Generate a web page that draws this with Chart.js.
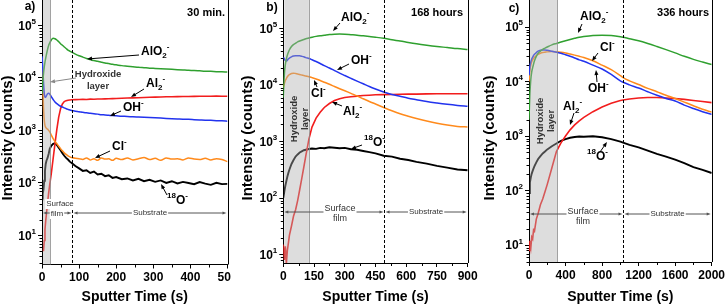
<!DOCTYPE html>
<html>
<head>
<meta charset="utf-8">
<script src="https://cdn.jsdelivr.net/npm/chart.js@4.4.0/dist/chart.umd.min.js"></script>
<style>
  body { margin: 0; background: #fff; }
  #wrap { position: relative; width: 725px; height: 307px; overflow: hidden; }
  canvas { position: absolute; top: 0; }
</style>
</head>
<body>
<div id="wrap">
  <canvas id="chartA" width="231" height="307" style="left:0"></canvas>
  <canvas id="chartB" width="249" height="307" style="left:231px"></canvas>
  <canvas id="chartC" width="245" height="307" style="left:480px"></canvas>
</div>
<script>
const FONT = '"Liberation Sans", Arial, Helvetica, sans-serif';
const H = 307;

const seriesNames = ['AlO_2^-', 'OH^-', 'Cl^-', 'Al_2^-', '^{18}O^-'];
const seriesColors = ['#2fa02f', '#2233ee', '#ff8a1c', '#f21d1d', '#000000'];
const seriesWidths = [1.5, 1.5, 1.5, 1.6, 1.9];
const yMajor = [10, 100, 1000, 10000, 100000];

// ---- a) 30 min ----
const timeA = [0,2,4,6,8,10,12,15,18,21,25,30,35,40,45,50,55,60,65,70,75,80,90,100,110,120,130,140,150,160,170,180,190,200,215,230,245,260,275,290,305,320,335,350,365,380,395,410,425,440,455,470,485,500];
const alo2A = [5000,8000,12000,16000,20000,24000,28000,35000,42000,47000,53000,57000,56000,53000,49000,45000,42000,39000,36500,34000,32500,31000,28500,26500,25000,23500,22500,21500,20800,20000,19300,18800,18200,17800,17200,16800,16400,16000,15700,15400,15200,15000,14800,14600,14400,14200,14000,13900,13700,13500,13400,13200,13100,13000];
const ohA = [26000,16000,8500,5200,4300,4300,4600,5000,5100,4900,4400,3900,3500,3250,3050,2900,2800,2700,2600,2520,2450,2400,2330,2280,2220,2170,2120,2080,2050,2000,1980,1950,1920,1900,1870,1850,1820,1800,1780,1760,1740,1720,1700,1680,1660,1640,1630,1610,1590,1570,1560,1540,1530,1500];
const clA = [24000,9000,2800,1600,1250,1150,1100,1060,1000,940,820,700,620,560,500,450,410,375,350,330,315,305,295,290,280,300,275,290,270,300,285,290,270,295,280,300,275,290,305,280,295,270,300,285,290,275,300,285,280,295,275,290,280,255];
const al2A = [null,null,5,8,13,19,26,42,65,95,150,290,560,1050,1800,2600,3200,3550,3700,3780,3820,3850,3880,3900,3920,3900,3950,3930,3970,3990,4000,4020,4050,4070,4100,4150,4180,4200,4250,4300,4320,4350,4380,4400,4420,4450,4430,4470,4480,4500,4480,4520,4500,4500];
const o18A = [70,62,75,110,170,230,265,300,360,450,510,555,570,530,470,420,370,330,300,280,255,240,210,190,170,175,155,165,145,150,135,140,125,130,118,122,112,120,108,115,105,112,100,108,98,105,100,95,104,97,92,101,95,96];
const xMajorA = [0, 100, 200, 300, 400, 500];
const xLabelsA = ['0', '100', '200', '300', '400', '500'];
const xMinorA = [50, 150, 250, 350, 450];

// ---- b) 168 hours ----
const timeB = [0,5,10,15,20,25,30,40,50,60,70,80,90,100,110,125,140,160,180,200,225,250,275,300,330,360,390,420,450,490,530,570,610,650,700,750,800,850,900];
const alo2B = [6000,15000,23000,29000,34000,38000,42000,48000,52000,55000,58000,60000,62000,64000,66000,68000,70000,72500,74500,76000,78000,79000,79500,79000,77500,76000,74000,72000,70000,67000,63000,60000,56500,53500,50500,48000,46000,44000,42500];
const ohB = [31000,29000,27000,26500,27500,29000,30000,31500,32500,33000,33000,32800,32200,31500,30500,29500,28000,26000,24000,22000,20000,18000,16200,14700,13100,11700,10500,9400,8500,7500,6800,6300,5850,5500,5100,4800,4550,4350,4200];
const clB = [9000,10500,12000,13000,14000,14800,15300,16000,16200,16000,15700,15300,15000,14700,14400,14000,13500,12800,12000,11200,10300,9400,8600,7900,7100,6400,5700,5100,4600,4000,3500,3100,2800,2550,2300,2100,1950,1850,1800];
const al2B = [15,8,14,7,12,16,22,32,48,62,90,140,220,350,560,1100,1800,2600,3300,4000,4700,5300,5700,6000,6200,6350,6500,6600,6700,6750,6800,6850,6900,6900,6950,7000,7000,7000,7000];
const o18B = [100,130,165,200,240,280,320,400,470,540,590,640,670,700,715,735,750,740,770,760,790,775,760,770,730,715,680,650,615,560,540,495,470,435,405,370,345,320,310];
const xMajorB = [0, 150, 300, 450, 600, 750, 900];
const xLabelsB = ['0', '150', '300', '450', '600', '750', '900'];
const xMinorB = [75, 225, 375, 525, 675, 825];

// ---- c) 336 hours ----
const timeC = [0,10,20,30,40,50,60,80,100,125,150,175,200,250,300,350,400,450,500,550,600,700,800,900,1000,1030,1100,1200,1300,1400,1500,1600,1700,1800,1900,2000];
const alo2C = [2000,6000,11000,15000,18000,21000,24000,29000,33000,36000,39000,41000,43000,47000,50000,53000,56000,59000,62000,65000,67000,70000,71000,70000,66500,65000,61000,56000,50000,44000,38500,33500,29000,25500,22800,20500];
const ohC = [13000,19000,23000,26000,28000,30000,31500,34000,36000,37500,38000,38000,37500,36000,34500,33000,31000,29000,27000,25000,23500,20000,17000,13500,10300,9700,8700,7600,6500,5600,4900,4400,3700,3200,2800,2500];
const clC = [10000,16000,20000,23000,25000,26500,28000,30000,31500,33000,34000,34500,35000,35500,35000,34500,33500,32000,30500,29000,27500,24000,20000,16500,12800,11800,10300,8800,7500,6500,5600,4900,4200,3600,3100,2750];
const al2C = [8,12,9,14,13,19,18,30,38,55,70,95,130,260,520,750,1000,1300,1600,1900,2200,2800,3400,4000,4500,4600,4800,5000,5100,5100,5000,4900,4700,4500,4300,4100];
const o18C = [90,140,175,205,230,255,280,330,380,430,480,520,570,650,730,820,880,930,960,980,970,990,950,880,790,760,690,620,540,470,420,370,320,270,240,210];
const xMajorC = [0, 400, 800, 1200, 1600, 2000];
const xLabelsC = ['0', '400', '800', '1200', '1600', '2000'];
const xMinorC = [200, 600, 1000, 1400, 1800];

// split "AlO_2^-" into normal / sub / sup runs
function chemParts(str) {
  const parts = [];
  let i = 0;
  while (i < str.length) {
    const c = str[i];
    if (c === '^' || c === '_') {
      let t;
      if (str[i + 1] === '{') { const j = str.indexOf('}', i); t = str.slice(i + 2, j); i = j + 1; }
      else { t = str[i + 1]; i += 2; }
      parts.push({ t, k: c === '^' ? 'sup' : 'sub' });
    } else {
      let j = i;
      while (j < str.length && str[j] !== '^' && str[j] !== '_') j++;
      parts.push({ t: str.slice(i, j), k: 'n' });
      i = j;
    }
  }
  return parts;
}

function drawChem(ctx, str, x, y, size, align, weight, color) {
  const parts = chemParts(str);
  const small = Math.round(size * 0.7);
  const fontOf = k => `${weight} ${k === 'n' ? size : small}px ${FONT}`;
  let w = 0;
  parts.forEach(p => { ctx.font = fontOf(p.k); p.w = ctx.measureText(p.t).width; w += p.w; });
  let cx = align === 'right' ? x - w : align === 'center' ? x - w / 2 : x;
  ctx.fillStyle = color || '#000';
  ctx.textAlign = 'left';
  ctx.textBaseline = 'middle';
  parts.forEach(p => {
    ctx.font = fontOf(p.k);
    const dy = p.k === 'sup' ? -size * 0.4 : p.k === 'sub' ? size * 0.3 : 0;
    ctx.fillText(p.t, cx, y + dy);
    cx += p.w;
  });
}

function arrow(ctx, x1, y1, x2, y2, color, head) {
  const a = Math.atan2(y2 - y1, x2 - x1);
  const c = Math.cos(a), s = Math.sin(a);
  ctx.strokeStyle = color; ctx.fillStyle = color; ctx.lineWidth = 1;
  ctx.beginPath(); ctx.moveTo(x1, y1); ctx.lineTo(x2 - c * head * 0.7, y2 - s * head * 0.7); ctx.stroke();
  ctx.beginPath();
  ctx.moveTo(x2, y2);
  ctx.lineTo(x2 - head * c + head * 0.4 * s, y2 - head * s - head * 0.4 * c);
  ctx.lineTo(x2 - head * c - head * 0.4 * s, y2 - head * s + head * 0.4 * c);
  ctx.closePath(); ctx.fill();
}

function textBox(ctx, str, x, y, font, color) {
  ctx.font = font;
  const w = ctx.measureText(str).width;
  ctx.fillStyle = '#fff';
  ctx.fillRect(x - w / 2 - 1, y - 5, w + 2, 10);
  ctx.fillStyle = color;
  ctx.textAlign = 'center'; ctx.textBaseline = 'middle';
  ctx.fillText(str, x, y);
}

// everything drawn on top of the curves: band, dashed line, frame, labels
function decor(p) {
  return {
    id: 'decor' + p.id,
    afterDatasetsDraw(chart) {
      const { ctx, chartArea: ca, scales: { x, y } } = chart;
      const L = p.left;
      ctx.save();
      const bx = x.getPixelForValue(p.band);
      ctx.fillStyle = 'rgba(175,175,175,0.42)';
      ctx.fillRect(ca.left + 1, ca.top, bx - ca.left - 1, ca.bottom - ca.top);
      ctx.strokeStyle = 'rgba(140,140,140,0.8)'; ctx.lineWidth = 1;
      ctx.beginPath(); ctx.moveTo(Math.round(bx) + 0.5, ca.top); ctx.lineTo(Math.round(bx) + 0.5, ca.bottom); ctx.stroke();

      const dx = Math.round(x.getPixelForValue(p.dash)) + 0.5;
      ctx.strokeStyle = '#000'; ctx.setLineDash([3, 2]);
      ctx.beginPath(); ctx.moveTo(dx, ca.top); ctx.lineTo(dx, ca.bottom); ctx.stroke();
      ctx.setLineDash([]);

      // right frame
      const rx = Math.round(ca.right) + 0.5;
      ctx.beginPath(); ctx.moveTo(rx, ca.top); ctx.lineTo(rx, ca.bottom); ctx.stroke();

      // minor ticks
      ctx.strokeStyle = '#000';
      p.xMinor.forEach(v => {
        const px = Math.round(x.getPixelForValue(v)) + 0.5;
        ctx.beginPath(); ctx.moveTo(px, ca.bottom); ctx.lineTo(px, ca.bottom + 3); ctx.stroke();
      });
      yMajor.forEach(d => {
        for (let m = 2; m <= 9; m++) {
          const v = d * m / 10;
          if (v <= p.yMin || v >= p.yMax) continue;
          const py = Math.round(y.getPixelForValue(v)) + 0.5;
          ctx.beginPath(); ctx.moveTo(ca.left, py); ctx.lineTo(ca.left - 2.5, py); ctx.stroke();
        }
      });

      // y tick labels 10^n
      yMajor.forEach(v => {
        if (v < p.yMin || v > p.yMax) return;
        drawChem(ctx, '10^' + Math.round(Math.log10(v)), ca.left - 6, y.getPixelForValue(v) + 1, 12, 'right', 'bold');
      });

      // y title
      ctx.save();
      ctx.translate(p.yTitle[0] - L, p.yTitle[1]);
      ctx.rotate(-Math.PI / 2);
      ctx.font = `bold 15px ${FONT}`; ctx.fillStyle = '#000';
      ctx.textAlign = 'center'; ctx.textBaseline = 'middle';
      ctx.fillText('Intensity (counts)', 0, 0);
      ctx.restore();

      // panel letter and ageing time
      ctx.font = `bold 12px ${FONT}`; ctx.fillStyle = '#000';
      ctx.textAlign = 'center'; ctx.textBaseline = 'middle';
      ctx.fillText(p.letter[0], p.letter[1] - L, p.letter[2]);
      ctx.font = `bold 11px ${FONT}`; ctx.textAlign = 'right';
      ctx.fillText(p.time[0], p.time[1] - L, p.time[2]);

      // species labels with arrows
      p.notes.forEach(n => {
        drawChem(ctx, seriesNames[n.s], n.tx - L, n.ty, 12, 'left', 'bold');
        arrow(ctx, n.a[0] - L, n.a[1], n.a[2] - L, n.a[3], '#000', 5);
      });

      // hydroxide layer
      const hx = p.hydro;
      ctx.fillStyle = '#333';
      if (hx.vertical) {
        ctx.save();
        ctx.font = `bold 9.5px ${FONT}`;
        ctx.textAlign = 'center'; ctx.textBaseline = 'middle';
        ctx.translate(hx.x - L, hx.y); ctx.rotate(-Math.PI / 2);
        ctx.fillText('Hydroxide', 0, 0);
        ctx.fillText('layer', 0, hx.gap);
        ctx.restore();
      } else {
        ctx.font = `bold 9.5px ${FONT}`;
        ctx.textAlign = 'center'; ctx.textBaseline = 'middle';
        ctx.fillText('Hydroxide', hx.x - L, hx.y);
        ctx.fillText('layer', hx.x - L, hx.y + 12);
        arrow(ctx, hx.a[0] - L, hx.a[1], hx.a[2] - L, hx.a[3], '#888', 5);
      }

      // surface film / substrate extents
      const gy = p.film.y;
      const mid = dx;
      const gray = '#555';
      arrow(ctx, ca.left + (mid - ca.left) / 2, gy, ca.left + 1, gy, gray, 4);
      arrow(ctx, ca.left + (mid - ca.left) / 2, gy, mid - 1, gy, gray, 4);
      arrow(ctx, (mid + ca.right) / 2, gy, mid + 1, gy, gray, 4);
      arrow(ctx, (mid + ca.right) / 2, gy, ca.right - 1, gy, gray, 4);
      const ff = `${p.film.size}px ${FONT}`;
      textBox(ctx, 'Surface', p.film.sx - L, p.film.sy, ff, '#333');
      textBox(ctx, 'film', p.film.sx - L + (p.film.fdx || 0), p.film.sy + 10, ff, '#333');
      textBox(ctx, 'Substrate', (mid + ca.right) / 2, gy, `8px ${FONT}`, '#333');
      ctx.restore();
    }
  };
}

function makePanel(p) {
  const sets = [p.green, p.blue, p.orange, p.red, p.black];
  const datasets = sets.map((vals, i) => ({
    label: seriesNames[i],
    data: p.t.map((t, k) => ({ x: t, y: vals[k] })),
    borderColor: seriesColors[i],
    borderWidth: seriesWidths[i],
    pointRadius: 0,
    tension: i >= 3 ? 0 : 0.4,
    cubicInterpolationMode: i >= 3 ? 'default' : 'monotone'
  }));
  return new Chart(document.getElementById(p.id), {
    type: 'line',
    data: { datasets },
    options: {
      responsive: false,
      animation: false,
      devicePixelRatio: 1,
      layout: { padding: { left: 0, top: 0, right: p.padRight, bottom: 0 } },
      plugins: { legend: { display: false }, tooltip: { enabled: false } },
      scales: {
        x: {
          type: 'linear', min: 0, max: p.xMax,
          afterBuildTicks: s => { s.ticks = p.xMajor.map(v => ({ value: v })); },
          afterFit: s => { s.height = H - p.bottom; s.paddingLeft = 0; s.paddingRight = 0; },
          ticks: {
            autoSkip: false, maxRotation: 0, padding: 2, color: '#000',
            font: { family: FONT, size: 12, weight: 'bold' },
            callback: (v, i) => p.xLabels[i]
          },
          grid: { display: true, drawOnChartArea: false, tickLength: 4, color: '#000' },
          border: { display: true, color: '#000', width: 1 },
          title: {
            display: true, text: 'Sputter Time (s)', color: '#000',
            font: { family: FONT, size: 14, weight: 'bold' },
            padding: { top: 0, bottom: 1.5 }
          }
        },
        y: {
          type: 'logarithmic', min: p.yMin, max: p.yMax,
          afterBuildTicks: s => { s.ticks = yMajor.filter(v => v > p.yMin && v < p.yMax).map(v => ({ value: v })); },
          afterFit: s => { s.width = p.areaLeft; s.paddingTop = 0; s.paddingBottom = 0; },
          ticks: { display: false },
          grid: { display: true, drawOnChartArea: false, tickLength: 4, color: '#000' },
          border: { display: true, color: '#000', width: 1 }
        }
      }
    },
    plugins: [decor(p)]
  });
}

makePanel({
  id: 'chartA', left: 0, areaLeft: 42, padRight: 3.5, bottom: 264.5,
  t: timeA, green: alo2A, blue: ohA, orange: clA, red: al2A, black: o18A,
  xMax: 500, xMajor: xMajorA, xLabels: xLabelsA, xMinor: xMinorA,
  yMin: 2.8, yMax: 3.06e5, band: 22, dash: 82,
  yTitle: [8, 138], letter: ['a)', 30, 7], time: ['30 min.', 225, 13],
  notes: [
    { s: 0, tx: 141, ty: 52, a: [139, 55, 87, 59] },
    { s: 3, tx: 146, ty: 84, a: [144, 89, 131, 97] },
    { s: 1, tx: 123, ty: 108, a: [121, 111, 110, 116] },
    { s: 2, tx: 112, ty: 147, a: [110, 151, 95, 158] },
    { s: 4, tx: 167, ty: 201, a: [167, 195, 161, 184] }
  ],
  hydro: { vertical: false, x: 98, y: 74, a: [76, 78, 50, 82] },
  film: { y: 213, sx: 60, sy: 204, size: 8, fdx: -3 }
});

makePanel({
  id: 'chartB', left: 231, areaLeft: 52.3, padRight: 12.3, bottom: 263,
  t: timeB, green: alo2B, blue: ohB, orange: clB, red: al2B, black: o18B,
  xMax: 900, xMajor: xMajorB, xLabels: xLabelsB, xMinor: xMinorB,
  yMin: 7.08, yMax: 3.19e5, band: 125, dash: 490,
  yTitle: [248, 138], letter: ['b)', 272, 8], time: ['168 hours', 463, 13],
  notes: [
    { s: 0, tx: 341, ty: 18, a: [340, 23, 333, 31] },
    { s: 1, tx: 351, ty: 61, a: [349, 64, 337, 70] },
    { s: 2, tx: 311, ty: 94, a: [317, 87, 314, 80] },
    { s: 3, tx: 343, ty: 112, a: [342, 106, 332, 102] },
    { s: 4, tx: 364, ty: 143, a: [362, 145, 351, 149] }
  ],
  hydro: { vertical: true, x: 294, y: 119, gap: 11 },
  film: { y: 212, sx: 340, sy: 209, size: 9 }
});

makePanel({
  id: 'chartC', left: 480, areaLeft: 49, padRight: 13.3, bottom: 262,
  t: timeC, green: alo2C, blue: ohC, orange: clC, red: al2C, black: o18C,
  xMax: 2000, xMajor: xMajorC, xLabels: xLabelsC, xMinor: xMinorC,
  yMin: 4.9, yMax: 3.13e5, band: 310, dash: 1030,
  yTitle: [490, 138], letter: ['c)', 514, 9], time: ['336 hours', 709, 13],
  notes: [
    { s: 0, tx: 580, ty: 17, a: [582, 24, 578, 33] },
    { s: 2, tx: 600, ty: 48, a: [598, 53, 592, 61] },
    { s: 1, tx: 588, ty: 89, a: [597, 82, 596, 70] },
    { s: 3, tx: 563, ty: 107, a: [574, 113, 570, 125] },
    { s: 4, tx: 587, ty: 157, a: [600, 152, 607, 142] }
  ],
  hydro: { vertical: true, x: 540, y: 121, gap: 11 },
  film: { y: 214, sx: 583, sy: 212, size: 9 }
});
</script>
</body>
</html>
